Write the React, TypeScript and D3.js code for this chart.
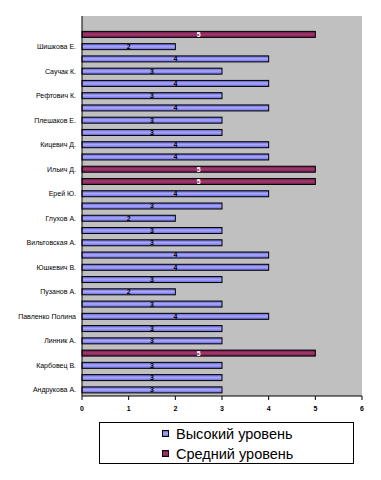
import React from "react";
import * as d3 from "d3";

// Rows from top to bottom (the top slot is empty in the original chart)
const categories: string[] = [
  "", "", "Шишкова Е.", "", "Саучак К.", "", "Рефтович К.", "", "Плешаков Е.", "",
  "Кицевич Д.", "", "Ильич Д.", "", "Ерей Ю.", "", "Глухов А.", "", "Вильтовская А.", "",
  "Юшкевич В.", "", "Пузанов А.", "", "Павленко Полина", "", "Линник А.", "", "Карбовец В.", "",
  "Андрукова А.",
];
const highLevel: (number | null)[] = [
  null, null, 2, 4, 3, 4, 3, 4, 3, 3,
  4, 4, null, null, 4, 3, 2, 3, 3, 4,
  4, 3, 2, 3, 4, 3, 3, null, 3, 3,
  3,
];
const midLevel: (number | null)[] = [
  null, 5, null, null, null, null, null, null, null, null,
  null, null, 5, 5, null, null, null, null, null, null,
  null, null, null, null, null, null, null, 5, null, null,
  null,
];
const seriesNames = ["Высокий уровень", "Средний уровень"];
const xTicks = [0, 1, 2, 3, 4, 5, 6];
const xDomainMax = 6;

const W = 381, H = 480;
const plot = { left: 82, right: 362, top: 16, bottom: 396 };

export default function App() {
  const x = d3.scaleLinear().domain([0, xDomainMax]).range([plot.left, plot.right]);
  const y = d3
    .scaleBand<number>()
    .domain(categories.map((_, i) => i))
    .range([plot.top, plot.bottom])
    .paddingInner(0.51)
    .paddingOuter(0.255);
  const bw = y.bandwidth();

  const series = [
    { name: seriesNames[0], values: highLevel, fill: "url(#gBlue)", labelColor: "#000" },
    { name: seriesNames[1], values: midLevel, fill: "url(#gMaroon)", labelColor: "#fff" },
  ];
  const font = "'Liberation Sans', Arial, sans-serif";

  return (
    <svg width={W} height={H} style={{ position: "absolute", left: 0, top: 0, background: "#fff" }}>
      <defs>
        <linearGradient id="gBlue" x1="0" y1="0" x2="0" y2="1">
          <stop offset="0" stopColor="#5555bb" />
          <stop offset="0.45" stopColor="#aaaaff" />
          <stop offset="0.6" stopColor="#9999ff" />
          <stop offset="1" stopColor="#6666cc" />
        </linearGradient>
        <linearGradient id="gMaroon" x1="0" y1="0" x2="0" y2="1">
          <stop offset="0" stopColor="#661144" />
          <stop offset="0.45" stopColor="#a33a6e" />
          <stop offset="0.6" stopColor="#993366" />
          <stop offset="1" stopColor="#6b1a47" />
        </linearGradient>
      </defs>
      <rect x={plot.left} y={plot.top} width={plot.right - plot.left} height={plot.bottom - plot.top} fill="#c0c0c0" />
      {series.map((s, si) =>
        s.values.map((v, i) =>
          v == null ? null : (
            <g key={`${si}-${i}`}>
              <rect
                x={x(0)}
                y={y(i)!}
                width={x(v) - x(0)}
                height={bw}
                fill={s.fill}
                stroke="#000"
                strokeWidth={1}
              />
              <text
                x={x(v / 2)}
                y={y(i)! + bw / 2}
                dy="0.35em"
                textAnchor="middle"
                fontFamily={font}
                fontSize={7}
                fontWeight="bold"
                fill={s.labelColor}
              >
                {v}
              </text>
            </g>
          )
        )
      )}
      {/* y axis */}
      <line x1={plot.left} x2={plot.left} y1={plot.top} y2={plot.bottom} stroke="#000" />
      {categories.map((c, i) =>
        c ? (
          <text
            key={i}
            x={plot.left - 6}
            y={y(i)! + bw / 2}
            dy="0.35em"
            textAnchor="end"
            fontFamily={font}
            fontSize={7}
            fill="#000"
          >
            {c}
          </text>
        ) : null
      )}
      {/* x axis */}
      <line x1={plot.left} x2={plot.right} y1={plot.bottom} y2={plot.bottom} stroke="#000" />
      {xTicks.map((t) => (
        <g key={t}>
          <line x1={x(t)} x2={x(t)} y1={plot.bottom} y2={plot.bottom + 4} stroke="#000" />
          <text x={x(t)} y={plot.bottom + 15} textAnchor="middle" fontFamily={font} fontSize={7} fontWeight="bold">
            {t}
          </text>
        </g>
      ))}
      {/* legend */}
      <rect x={99.5} y={422.5} width={254} height={41} fill="#fff" stroke="#000" />
      {series.map((s, i) => (
        <g key={s.name}>
          <rect x={162.5} y={430.5 + i * 20} width={6} height={6} fill={s.fill} stroke="#000" />
          <text x={176} y={433.5 + i * 20} dy="0.35em" fontFamily={font} fontSize={14.5} fill="#000">
            {s.name}
          </text>
        </g>
      ))}
    </svg>
  );
}
